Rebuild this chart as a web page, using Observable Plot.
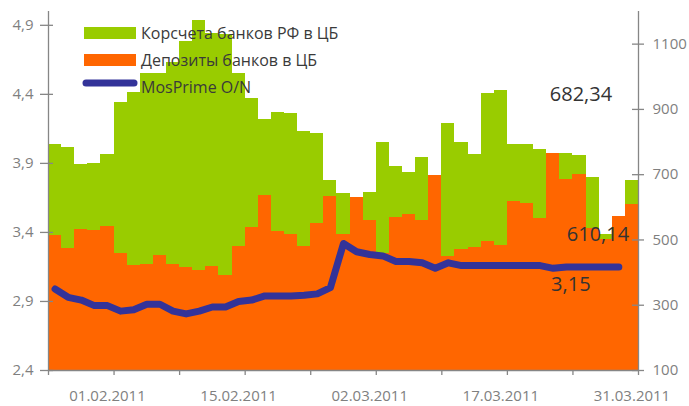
<!DOCTYPE html>
<html><head><meta charset="utf-8">
<script src="https://cdn.jsdelivr.net/npm/d3@7"></script>
<script src="https://cdn.jsdelivr.net/npm/@observablehq/plot@0.6"></script>
<style>body{margin:0;background:#fff}</style>
</head><body><div id="chart"></div>
<script>
// ---- data ----
const dates = ["26.01.2011","27.01.2011","28.01.2011","31.01.2011","01.02.2011","02.02.2011","03.02.2011","04.02.2011","07.02.2011","08.02.2011","09.02.2011","10.02.2011","11.02.2011","14.02.2011","15.02.2011","16.02.2011","17.02.2011","18.02.2011","21.02.2011","22.02.2011","24.02.2011","25.02.2011","28.02.2011","01.03.2011","02.03.2011","03.03.2011","04.03.2011","05.03.2011","09.03.2011","10.03.2011","11.03.2011","14.03.2011","15.03.2011","16.03.2011","17.03.2011","18.03.2011","21.03.2011","22.03.2011","23.03.2011","24.03.2011","25.03.2011","28.03.2011","29.03.2011","30.03.2011","31.03.2011"];
const korschet = [792,783,731,734,762,921,952,1011,1010,1044,1109,1172,1132,1131,1011,933,870,891,887,832,826,682,642,620,645,799,726,707,754,680,857,799,762,949,958,792,792,777,740,765,759,691,518,560,682.34];
const deposits = [514,475,532,529,541,458,422,425,452,425,416,406,419,391,480,538,636,526,517,480,550,633,518,630,560,458,569,578,560,698,450,471,477,495,483,618,612,566,765,685,701,535,500,572,610.14];
const mosprime = [2.99,2.93,2.91,2.87,2.87,2.83,2.84,2.88,2.88,2.83,2.81,2.83,2.86,2.86,2.90,2.91,2.94,2.94,2.94,2.945,2.955,3.00,3.32,3.26,3.24,3.23,3.19,3.19,3.18,3.14,3.18,3.16,3.16,3.16,3.16,3.16,3.16,3.16,3.14,3.15,3.15,3.15,3.15,3.15];
const leftTicks = [2.4,2.9,3.4,3.9,4.4,4.9];
const rightTicks = [100,300,500,700,900,1100];
const xTickIdx = [0,5,10,15,20,25,30,35,40,45];
const xLabelIdx = [4,14,24,34,44];
const seriesNames = ["Корсчета банков РФ в ЦБ","Депозиты банков в ЦБ","MosPrime O/N"];
const colors = ["#99CC00","#FF6600","#333399"];

// ---- layout ----
const W = 689, H = 406, mL = 48, mR = 51, mT = 11, mB = 36;
const L0 = 2.4, L1 = 5.0, R0 = 100, R1 = 1200;
const toR = v => R0 + (v - L0) * (R1 - R0) / (L1 - L0);
const xu = dates.length / (W - mL - mR);   // x units per px
const yu = (R1 - R0) / (H - mT - mB);      // y units per px
const ru = d => d.toFixed(2).replace(".", ",");
const axisColor = "#868686", tickText = "#7f7f7f";

const rows = dates.map((d, i) => ({i, date: d, green: korschet[i], orange: deposits[i]}));
const linePts = mosprime.map((v, i) => ({i, v}));

const chart = Plot.plot({
  width: W, height: H, marginLeft: mL, marginRight: mR, marginTop: mT, marginBottom: mB,
  x: {domain: [0, dates.length], axis: null},
  y: {domain: [R0, R1], axis: null},
  style: {fontFamily: "'Open Sans', sans-serif", background: "#fff", overflow: "visible"},
  marks: [
    Plot.rect(rows, {x1: "i", x2: d => d.i + 1, y1: () => R0, y2: "green", fill: colors[0], shapeRendering: "crispEdges"}),
    Plot.rect(rows, {x1: "i", x2: d => d.i + 1, y1: () => R0, y2: "orange", fill: colors[1], shapeRendering: "crispEdges"}),
    Plot.line(linePts, {x: d => d.i + 0.5, y: d => toR(d.v), stroke: colors[2], strokeWidth: 7, strokeLinecap: "round", strokeLinejoin: "round"}),
    // axes lines
    Plot.ruleX([0, dates.length], {stroke: axisColor, strokeWidth: 1.3}),
    Plot.ruleY([R0], {stroke: axisColor, strokeWidth: 1.3}),
    // left ticks
    Plot.ruleY(leftTicks, {y: d => toR(d), x1: () => -8 * xu, x2: () => 5 * xu, stroke: axisColor, strokeWidth: 1.3}),
    Plot.text(leftTicks, {x: () => 0, y: d => toR(d), text: d => String(d).replace(".", ","), dx: -15, textAnchor: "end", fill: tickText, fontSize: 15}),
    // right ticks
    Plot.ruleY(rightTicks, {y: d => d, x1: () => dates.length - 6 * xu, x2: () => dates.length + 6 * xu, stroke: axisColor, strokeWidth: 1.3}),
    Plot.text(rightTicks, {x: () => dates.length, y: d => d, text: d => String(d), dx: 14, textAnchor: "start", fill: tickText, fontSize: 15}),
    // bottom ticks
    Plot.ruleX(xTickIdx, {x: d => d, y1: () => R0, y2: () => R0 - 5 * yu, stroke: axisColor, strokeWidth: 1.3}),
    Plot.text(xLabelIdx, {x: d => d + 0.5, y: () => R0, text: d => dates[d], dy: 26, fill: tickText, fontSize: 15}),
    // value annotations
    Plot.text([korschet[korschet.length - 1]], {x: () => dates.length - 0.5, y: d => d, text: ru, dx: -51, dy: -86, fontSize: 20, fill: "#333"}),
    Plot.text([deposits[deposits.length - 1]], {x: () => dates.length - 0.5, y: d => d, text: ru, dx: -34, dy: 31, fontSize: 20, fill: "#333"}),
    Plot.text([mosprime[mosprime.length - 1]], {x: () => mosprime.length - 0.5, y: d => toR(d), text: ru, dx: -48, dy: 18, fontSize: 20, fill: "#333"})
  ]
});

// legend inside the plot area
const svg = d3.select(chart);
const lg = svg.append("g").attr("text-anchor", "start");
const rowsY = [33, 60, 87];
lg.append("rect").attr("x", 84).attr("y", 27).attr("width", 52).attr("height", 12).attr("fill", colors[0]);
lg.append("rect").attr("x", 84).attr("y", 54).attr("width", 52).attr("height", 12).attr("fill", colors[1]);
lg.append("line").attr("x1", 86).attr("x2", 134).attr("y1", 83).attr("y2", 83)
  .attr("stroke", colors[2]).attr("stroke-width", 7).attr("stroke-linecap", "round");
seriesNames.forEach((n, k) => {
  lg.append("text").attr("x", 141).attr("y", rowsY[k]).attr("dy", "0.35em")
    .attr("text-anchor", "start").attr("font-size", 16).attr("fill", "#3a3a3a").text(n);
});

document.getElementById("chart").appendChild(chart);
</script>
</body></html>
